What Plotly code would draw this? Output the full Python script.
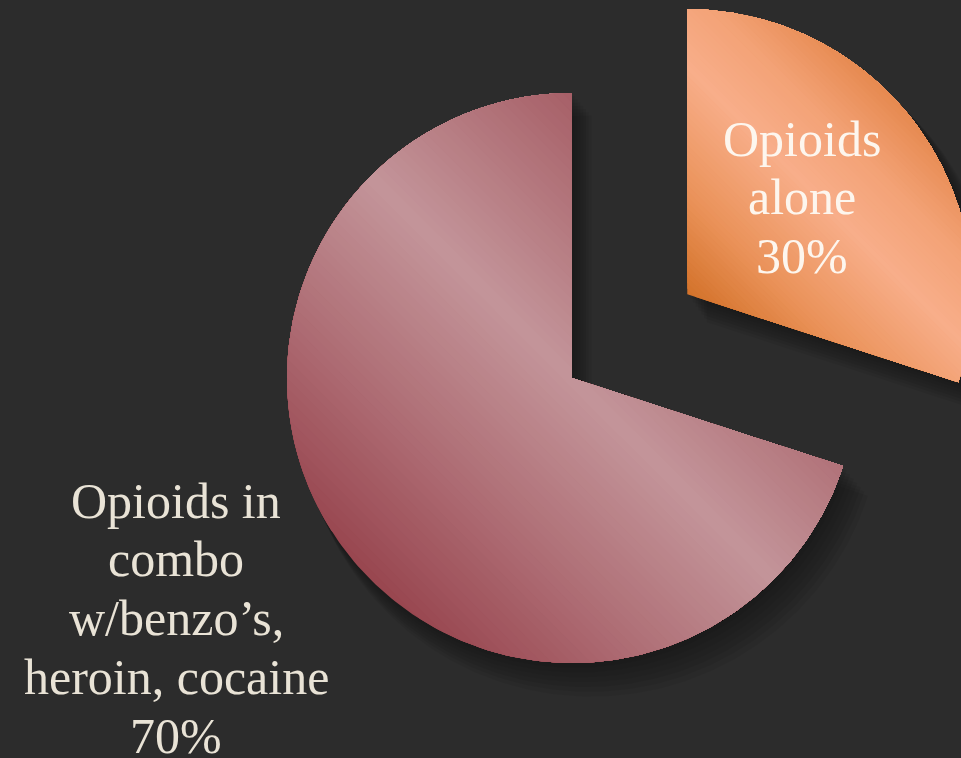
import math
import plotly.graph_objects as go

# ---- data ----
labels = ["Opioids<br>alone<br>30%", "Opioids in<br>combo<br>w/benzo’s,<br>heroin, cocaine<br>70%"]
values = [30, 70]
pulls = [0.5, 0.0]

# ---- styling ----
BG = "#2c2c2c"
grad_stops = [
    # (s, color) where s = (x - cx) + (y - cy), in radius units, relative to slice apex
    [(0.0, "#d3722a"), (0.35, "#ea9259"), (0.8, "#f8ae8a"), (1.1, "#f3a276"), (1.42, "#e6894f")],
    [(-1.42, "#98464f"), (-0.75, "#ae6d74"), (0.0, "#c4959a"), (0.5, "#b57a80"), (1.0, "#a65f67")],
]
# label line centres in pixels (x centre, first-line centre y, line step)
label_px = [(802, 138.5, 58.5), (176, 500.5, 58.8)]
label_colors = ["#fdf6ee", "#e9e3d6"]
FONT_SIZE = 50

W, H = 961, 758
R_PX = 285.0
CX_PX, CY_PX = 572.0, 378.0


def hex2rgb(h):
    h = h.lstrip("#")
    return tuple(int(h[i:i + 2], 16) for i in (0, 2, 4))


def interp(stops, s):
    if s <= stops[0][0]:
        return hex2rgb(stops[0][1])
    if s >= stops[-1][0]:
        return hex2rgb(stops[-1][1])
    for (s0, c0), (s1, c1) in zip(stops[:-1], stops[1:]):
        if s0 <= s <= s1:
            t = (s - s0) / (s1 - s0)
            a, b = hex2rgb(c0), hex2rgb(c1)
            return tuple(round(a[i] + (b[i] - a[i]) * t) for i in range(3))
    return hex2rgb(stops[-1][1])


def wedge(cx, cy, a0, a1, r=1.0, n=240):
    pts = [(cx, cy)]
    for i in range(n + 1):
        a = math.radians(a0 + (a1 - a0) * i / n)
        pts.append((cx + r * math.sin(a), cy + r * math.cos(a)))
    pts.append((cx, cy))
    return pts


def clip(poly, cx, cy, s0):
    # keep region where (x-cx)+(y-cy) >= s0 (polygon must be convex)
    def f(p):
        return (p[0] - cx) + (p[1] - cy) - s0
    out = []
    n = len(poly)
    for i in range(n):
        p, q = poly[i], poly[(i + 1) % n]
        fp, fq = f(p), f(q)
        if fp >= 0:
            out.append(p)
        if (fp >= 0) != (fq >= 0):
            t = fp / (fp - fq)
            out.append((p[0] + (q[0] - p[0]) * t, p[1] + (q[1] - p[1]) * t))
    return out


fig = go.Figure()

total = sum(values)
slices = []
start = 0.0
for v, p in zip(values, pulls):
    span = 360.0 * v / total
    mid = math.radians(start + span / 2)
    cx, cy = p * math.sin(mid), p * math.cos(mid)
    slices.append((cx, cy, start, start + span))
    start += span

# soft drop shadows
d_px = [4, 8, 12, 16, 20, 24, 28]
for cx, cy, a0, a1 in slices:
    for d in d_px:
        off = d / R_PX
        pts = wedge(cx + off * 0.7, cy - off, a0, a1, r=1.0 + off * 0.2)
        fig.add_trace(go.Scatter(
            x=[q[0] for q in pts], y=[q[1] for q in pts], mode="lines",
            fill="toself", fillcolor="rgba(0,0,0,0.055)",
            line=dict(width=0), hoverinfo="skip", showlegend=False))

# gradient-filled slices (split into convex pieces, painted in bands)
N = 70
for (cx, cy, a0, a1), stops in zip(slices, grad_stops):
    npieces = max(1, math.ceil((a1 - a0) / 100.0))
    pieces = [wedge(cx, cy, a0 + (a1 - a0) * i / npieces, a0 + (a1 - a0) * (i + 1) / npieces,
                    n=max(40, int(240 / npieces)))
              for i in range(npieces)]
    allpts = [q for pc in pieces for q in pc]
    ss = [(q[0] - cx) + (q[1] - cy) for q in allpts]
    smin, smax = min(ss), max(ss)
    for k in range(N):
        s_k = smin + (smax - smin) * k / N if k > 0 else smin - 1
        s_mid = smin + (smax - smin) * (k + 0.5) / N
        xs, ys = [], []
        for pc in pieces:
            cp = clip(pc, cx, cy, s_k)
            if len(cp) < 3:
                continue
            cp = cp + [cp[0]]
            if xs:
                xs.append(None)
                ys.append(None)
            xs += [q[0] for q in cp]
            ys += [q[1] for q in cp]
        if not xs:
            continue
        col = "rgb(%d,%d,%d)" % interp(stops, s_mid)
        fig.add_trace(go.Scatter(
            x=xs, y=ys, mode="lines", fill="toself", fillcolor=col,
            line=dict(width=0), connectgaps=False,
            hoverinfo="skip", showlegend=False))

for lab, (px, py0, step), lc in zip(labels, label_px, label_colors):
    for i, line in enumerate(lab.split("<br>")):
        py = py0 + i * step
        fig.add_annotation(x=(px - CX_PX) / R_PX, y=(CY_PX - py) / R_PX, xref="x", yref="y",
                           text=line, showarrow=False,
                           font=dict(family="Liberation Serif", size=FONT_SIZE, color=lc),
                           xanchor="center", yanchor="middle", align="center")

fig.update_layout(
    width=W, height=H, margin=dict(l=0, r=0, t=0, b=0),
    paper_bgcolor=BG, plot_bgcolor=BG, showlegend=False,
    xaxis=dict(range=[-CX_PX / R_PX, (W - CX_PX) / R_PX], visible=False, fixedrange=True),
    yaxis=dict(range=[-(H - CY_PX) / R_PX, CY_PX / R_PX], visible=False, fixedrange=True),
)

fig.write_html("out.html")
